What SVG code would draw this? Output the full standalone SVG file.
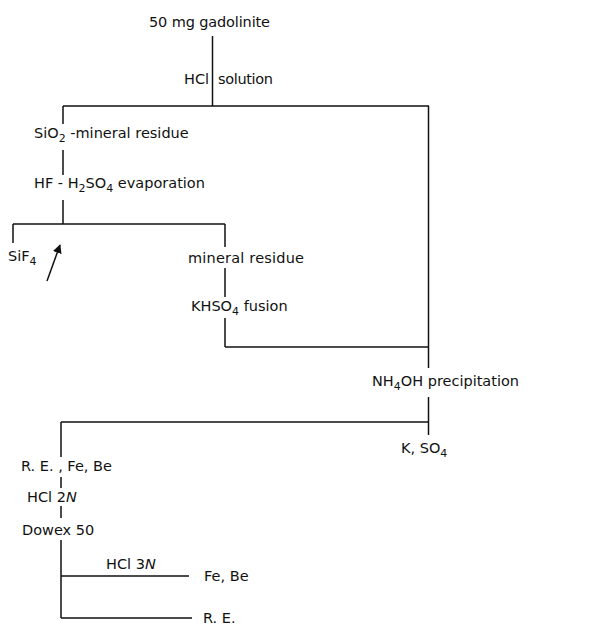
<svg xmlns="http://www.w3.org/2000/svg" width="616" height="625" viewBox="0 0 616 625">
<style>
text{font-family:"DejaVu Sans","Liberation Sans",sans-serif;font-size:14.5px;fill:#111}
.c line{stroke:#111;stroke-width:1.5;fill:none}
.s{font-size:11px}
.i{font-style:italic}
</style>
<defs>
<marker id="ah" viewBox="0 0 10 10" refX="9" refY="5" markerWidth="9" markerHeight="9" orient="auto" markerUnits="userSpaceOnUse">
<path d="M0,0 L10,5 L0,10 z" fill="#111"/>
</marker>
</defs>
<rect width="616" height="625" fill="#fff"/>
<g class="c" id="connectors">
<line x1="212.5" y1="36" x2="212.5" y2="106"/>
<line x1="63" y1="106" x2="429" y2="106"/>
<line x1="63" y1="106" x2="63" y2="124"/>
<line x1="63" y1="150" x2="63" y2="175"/>
<line x1="63" y1="200" x2="63" y2="224"/>
<line x1="13" y1="224" x2="225" y2="224"/>
<line x1="13" y1="224" x2="13" y2="243"/>
<line x1="225" y1="224" x2="225" y2="247"/>
<line x1="225" y1="268" x2="225" y2="297"/>
<line x1="225" y1="318" x2="225" y2="347"/>
<line x1="225" y1="347" x2="428.5" y2="347"/>
<line x1="428.5" y1="106" x2="428.5" y2="368"/>
<line x1="428.5" y1="397" x2="428.5" y2="435"/>
<line x1="61" y1="422" x2="428.5" y2="422"/>
<line x1="61" y1="422" x2="61" y2="457"/>
<line x1="61" y1="477" x2="61" y2="488"/>
<line x1="61" y1="506" x2="61" y2="518"/>
<line x1="61" y1="540" x2="61" y2="618"/>
<line x1="61" y1="576" x2="189" y2="576"/>
<line x1="61" y1="618" x2="192" y2="618"/>
<line x1="47" y1="281" x2="60" y2="245" marker-end="url(#ah)"/>
</g>
<g id="gadolinite"><text x="149" y="27" textLength="121">50 mg gadolinite</text></g>
<g id="hcl-solution"><text x="184" y="84">HCl</text><text x="218" y="84" textLength="55">solution</text></g>
<g id="sio2-residue"><text x="34" y="138">SiO<tspan class="s" dy="4">2</tspan><tspan dy="-4"> -mineral  residue</tspan></text></g>
<g id="hf-evaporation"><text x="34" y="188">HF - H<tspan class="s" dy="4">2</tspan><tspan dy="-4">SO</tspan><tspan class="s" dy="4">4</tspan><tspan dy="-4"> evaporation</tspan></text></g>
<g id="sif4"><text x="8" y="261">SiF<tspan class="s" dy="4">4</tspan></text></g>
<g id="mineral-residue"><text x="188" y="263" textLength="116">mineral residue</text></g>
<g id="khso4-fusion"><text x="191" y="311">KHSO<tspan class="s" dy="4">4</tspan><tspan dy="-4"> fusion</tspan></text></g>
<g id="nh4oh"><text x="372" y="386">NH<tspan class="s" dy="4">4</tspan><tspan dy="-4">OH precipitation</tspan></text></g>
<g id="k-so4"><text x="401" y="453">K, SO<tspan class="s" dy="4">4</tspan></text></g>
<g id="re-fe-be"><text x="21" y="471">R. E. , Fe, Be</text></g>
<g id="hcl-2n"><text x="27" y="502">HCl 2<tspan class="i">N</tspan></text></g>
<g id="dowex"><text x="22" y="535">Dowex 50</text></g>
<g id="hcl-3n"><text x="106" y="569">HCl 3<tspan class="i">N</tspan></text></g>
<g id="fe-be"><text x="204" y="581">Fe, Be</text></g>
<g id="re"><text x="203" y="623">R. E.</text></g>
</svg>
